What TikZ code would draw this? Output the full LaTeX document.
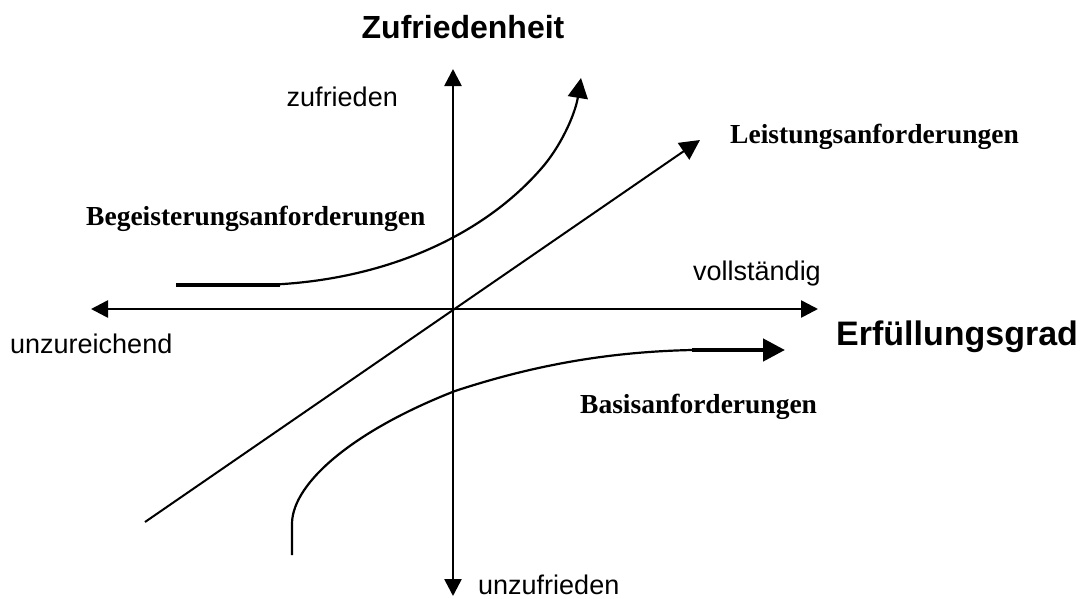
\documentclass[tikz,border=0pt]{standalone}
\usepackage{fontspec}
\setmainfont{Liberation Serif}
\setsansfont{Liberation Sans}
\usetikzlibrary{arrows.meta}
\begin{document}
\begin{tikzpicture}[x=1pt, y=-1pt,
    axis/.style={line width=2.6pt, {Triangle[length=17pt,width=17pt]}-{Triangle[length=17pt,width=17pt]}},
    curve/.style={line width=2.2pt},
    tipped/.style={-{Triangle[length=20pt,width=20pt]}},
    heavy/.style={line width=4.5pt},
    axlbl/.style={font=\sffamily\fontsize{27}{31}\selectfont, inner sep=0pt},
    axtitle/.style={font=\sffamily\bfseries\fontsize{32}{36}\selectfont, inner sep=0pt},
    kind/.style={font=\bfseries\fontsize{27.5}{32}\selectfont, inner sep=0pt}]
  \useasboundingbox (0,0) rectangle (1092,598);
  % axes
  \coordinate (top) at (453,69);
  \coordinate (bottom) at (453,596);
  \coordinate (left) at (91,309);
  \coordinate (right) at (818,309);
  \draw[axis] (bottom) -- (top);
  \draw[axis] (left) -- (right);
  % axis labels
  \node[axtitle, anchor=base] (zuf) at (463,38) {Zufriedenheit};
  \node[axtitle, font=\sffamily\bfseries\fontsize{34}{38}\selectfont, anchor=base west] (erf) at (836,345) {Erfüllungsgrad};
  \node[axlbl, anchor=base east] (zu) at (398,106) {zufrieden};
  \node[axlbl, anchor=base west] (unzu) at (478,594) {unzufrieden};
  \node[axlbl, anchor=base west] (voll) at (693,280) {vollständig};
  \node[axlbl, anchor=base west] (unzr) at (10,353) {unzureichend};
  % Leistungsanforderungen
  \coordinate (lstart) at (145,522);
  \coordinate (lend) at (700,140);
  \draw[curve, line width=2pt, tipped] (lstart) -- (lend);
  \node[kind, anchor=base west] (leist) at (730,143) {Leistungsanforderungen};
  % Begeisterungsanforderungen
  \coordinate (bga) at (176,285);
  \coordinate (bgb) at (280,285);
  \coordinate (bgc) at (262,285);
  \coordinate (bgm) at (540,170);
  \coordinate (bgtip) at (581,78);
  \draw[heavy] (bga) -- (bgb);
  \draw[curve, tipped] (bgc) .. controls (380,282) and (480,238) .. (bgm)
    .. controls (560,148) and (575,115) .. (bgtip);
  \node[kind, anchor=base west] (begeist) at (86,225) {Begeisterungsanforderungen};
  % Basisanforderungen
  \coordinate (bsa) at (292,555);
  \coordinate (bsb) at (292,523);
  \coordinate (bsm) at (455,391);
  \coordinate (bsc) at (692,350);
  \coordinate (bstip) at (785,350);
  \draw[curve] (bsa) -- (bsb) .. controls (293,482) and (355,430) .. (bsm)
    .. controls (525,368) and (600,352) .. (bsc);
  \draw[heavy, -{Triangle[length=22pt,width=22pt]}] (bsc) -- (bstip);
  \node[kind, anchor=base west] (basis) at (580,413) {Basisanforderungen};
\end{tikzpicture}
\end{document}
